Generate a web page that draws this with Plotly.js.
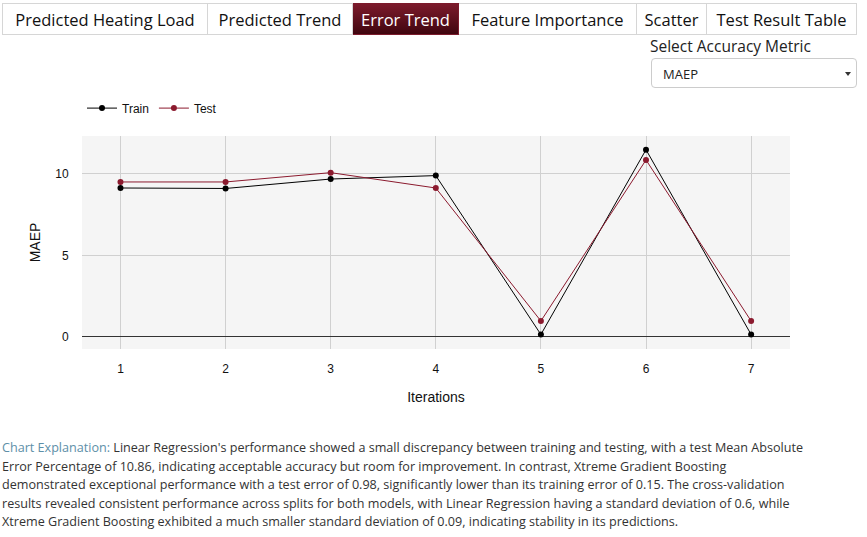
<!DOCTYPE html>
<html>
<head>
<meta charset="utf-8">
<script src="https://cdn.plot.ly/plotly-3.0.1.min.js"></script>
<style>
  html, body { margin:0; padding:0; background:#fff; width:867px; height:537px; overflow:hidden; font-family:"Open Sans", "Noto Sans", sans-serif; }
  .tabs { position:absolute; top:3px; left:2px; height:32px; display:flex; }
  .tab { box-sizing:border-box; height:32px; border:1px solid #d6d6d6; border-left:none; font-size:16.5px; color:#111; display:flex; align-items:center; justify-content:center; white-space:nowrap; background:#fff; }
  .tab:first-child { border-left:1px solid #d6d6d6; }
  .tab.active { background:linear-gradient(#7c1b2c, #40060f); color:#fff; border-color:#7c1b2c; }
  .label { position:absolute; left:650px; top:35px; font-size:15.5px; color:#222; }
  .select { position:absolute; left:651px; top:58px; width:206px; height:30px; box-sizing:border-box; border:1px solid #ccc; border-radius:4px; }
  .select span { position:absolute; left:11px; top:6px; font-size:13px; color:#222; }
  .select .arrow { position:absolute; right:5px; top:13px; width:0; height:0; border-left:3.5px solid transparent; border-right:3.5px solid transparent; border-top:4px solid #333; }
  #chart { position:absolute; left:0; top:90px; width:867px; height:329px; }
  .expl { position:absolute; left:2px; top:439px; font-size:12.6px; line-height:18.6px; color:#333; white-space:nowrap; }
  .expl .h { color:#5d8fa8; }
</style>
</head>
<body>
<div class="tabs">
  <div class="tab" style="width:206px">Predicted Heating Load</div>
  <div class="tab" style="width:145px">Predicted Trend</div>
  <div class="tab active" style="width:106px">Error Trend</div>
  <div class="tab" style="width:178px">Feature Importance</div>
  <div class="tab" style="width:70px">Scatter</div>
  <div class="tab" style="width:150px">Test Result Table</div>
</div>
<div class="label">Select Accuracy Metric</div>
<div class="select"><span>MAEP</span><div class="arrow"></div></div>
<div id="chart"></div>
<div class="expl"><span class="h">Chart Explanation:</span> Linear Regression's performance showed a small discrepancy between training and testing, with a test Mean Absolute<br>Error Percentage of 10.86, indicating acceptable accuracy but room for improvement. In contrast, Xtreme Gradient Boosting<br>demonstrated exceptional performance with a test error of 0.98, significantly lower than its training error of 0.15. The cross-validation<br>results revealed consistent performance across splits for both models, with Linear Regression having a standard deviation of 0.6, while<br>Xtreme Gradient Boosting exhibited a much smaller standard deviation of 0.09, indicating stability in its predictions.</div>
<script>
const iterations = [1, 2, 3, 4, 5, 6, 7];
const trainValues = [9.14, 9.11, 9.69, 9.90, 0.15, 11.49, 0.15];
const testValues = [9.51, 9.51, 10.08, 9.14, 0.98, 10.86, 0.98];

const traces = [
  { x: iterations, y: trainValues, name: 'Train', mode: 'lines+markers', type: 'scatter',
    line: { color: '#000000', width: 1 }, marker: { color: '#000000', size: 6 } },
  { x: iterations, y: testValues, name: 'Test', mode: 'lines+markers', type: 'scatter',
    line: { color: '#8b1a2e', width: 1 }, marker: { color: '#8b1a2e', size: 6 } }
];

const layout = {
  width: 867, height: 329,
  margin: { l: 82, r: 77, t: 46, b: 70, autoexpand: false },
  paper_bgcolor: '#ffffff',
  plot_bgcolor: '#f5f5f5',
  font: { family: 'Liberation Sans, Arial, sans-serif', size: 12, color: '#111' },
  showlegend: true,
  legend: { orientation: 'h', x: 0, xanchor: 'left', yref: 'container', y: 0.945, yanchor: 'middle', font: { size: 12 } },
  xaxis: {
    title: { text: 'Iterations', standoff: 16 },
    range: [0.634, 7.37],
    tickvals: iterations,
    gridcolor: '#d0d0d0', showline: false, zeroline: false,
    ticks: 'outside', ticklen: 9, tickcolor: 'rgba(0,0,0,0)'
  },
  yaxis: {
    title: { text: 'MAEP', standoff: 11 },
    range: [-0.74, 12.33],
    tickvals: [0, 5, 10],
    gridcolor: '#d0d0d0', zeroline: true, zerolinecolor: '#333', zerolinewidth: 1,
    showline: false,
    ticks: 'outside', ticklen: 10, tickcolor: 'rgba(0,0,0,0)'
  }
};

Plotly.newPlot('chart', traces, layout, { displayModeBar: false, staticPlot: true });
</script>
</body>
</html>
